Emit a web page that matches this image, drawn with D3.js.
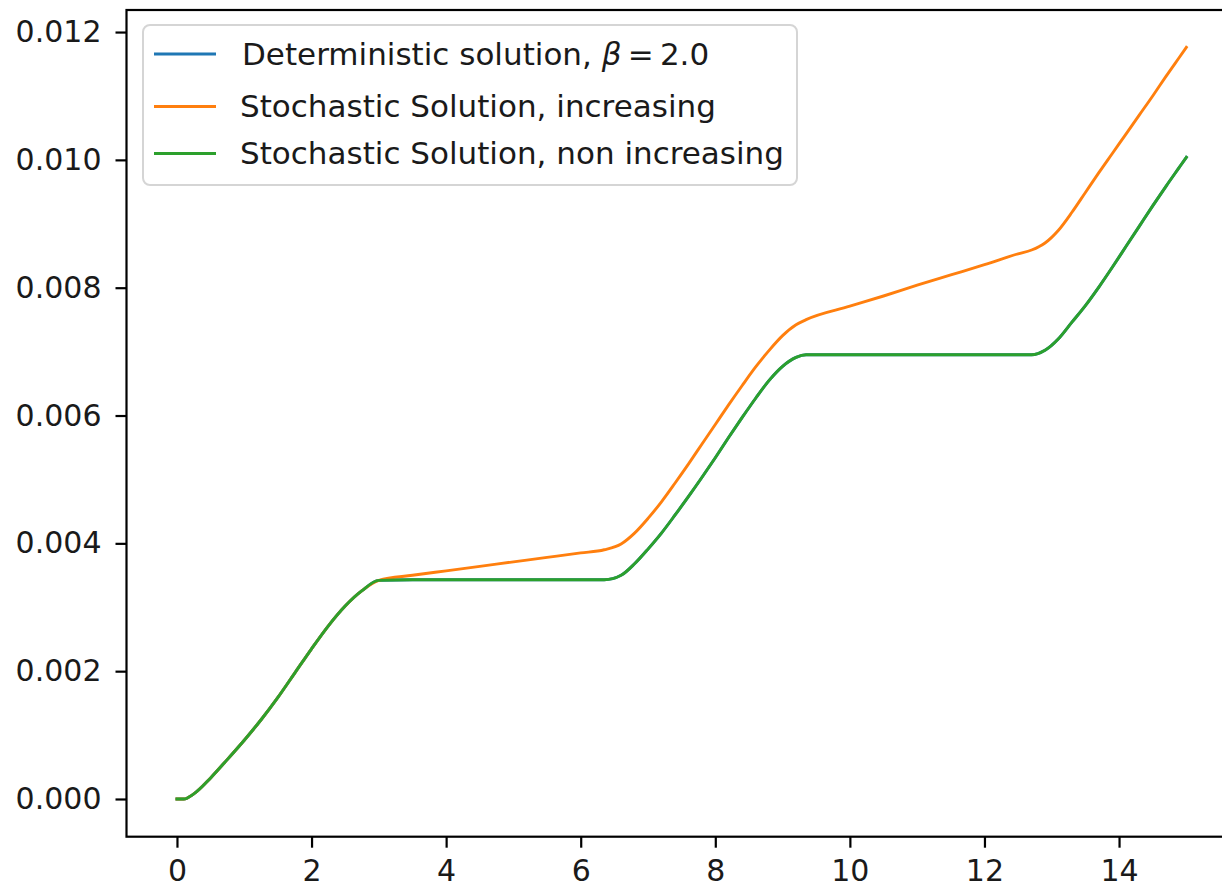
<!DOCTYPE html>
<html>
<head>
<meta charset="utf-8">
<script src="https://cdn.jsdelivr.net/npm/d3@7"></script>
<style>
  body { margin: 0; background: #fff; }
  svg { display: block; font-family: "DejaVu Sans", sans-serif; }
</style>
</head>
<body>
<div id="chart"></div>
<script>
// time grid shared by all three series
const tValues = [
  0, 0.1, 0.25, 0.5, 0.75, 1.0, 1.25, 1.5, 1.75, 2.0, 2.25, 2.5, 2.75, 3.0,
  3.5, 4.0, 4.5, 5.0, 5.5, 6.0, 6.35,
  6.6, 6.8, 7.0, 7.2, 7.4, 7.6, 7.8, 8.0, 8.2, 8.4, 8.6, 8.8, 9.0, 9.2, 9.35,
  10.0, 10.5, 11.0, 11.5, 12.0, 12.5, 12.7,
  12.9, 13.1, 13.3, 13.5, 13.7, 13.9, 14.1, 14.3, 14.5, 14.7, 14.9, 15.0
];

// non increasing stochastic solution (the deterministic one lies underneath it)
const nonIncreasing = [
  0, 0, 0.00008, 0.00033, 0.00062, 0.00092, 0.00124, 0.00159, 0.00197, 0.00235, 0.00271, 0.00302, 0.00326, 0.00342,
  0.00343, 0.00343, 0.00343, 0.00343, 0.00343, 0.00343, 0.00343,
  0.00350, 0.00368, 0.00391, 0.00416, 0.00444, 0.00473, 0.00503, 0.00534, 0.00566, 0.00597, 0.00627, 0.00655, 0.00677, 0.00691, 0.00695,
  0.00695, 0.00695, 0.00695, 0.00695, 0.00695, 0.00695, 0.00695,
  0.00702, 0.00720, 0.00746, 0.00772, 0.00801, 0.00832, 0.00864, 0.00896, 0.00928, 0.00959, 0.00989, 0.01004
];

const deterministic = nonIncreasing.slice();

const increasing = [
  0, 0, 0.00008, 0.00033, 0.00062, 0.00092, 0.00124, 0.00159, 0.00197, 0.00235, 0.00271, 0.00302, 0.00326, 0.00342,
  0.00350, 0.00357, 0.00364, 0.00371, 0.00378, 0.00385, 0.00390,
  0.00399, 0.00416, 0.00439, 0.00465, 0.00494, 0.00524, 0.00555, 0.00586, 0.00617, 0.00647, 0.00676, 0.00702, 0.00725, 0.00742, 0.00750,
  0.00771, 0.00787, 0.00804, 0.00820, 0.00836, 0.00853, 0.00859,
  0.00870, 0.00890, 0.00918, 0.00949, 0.00980, 0.01010, 0.01040, 0.01070, 0.01100, 0.01131, 0.01161, 0.01176
];

const seriesNames = [
  "Deterministic solution, ",
  "Stochastic Solution, increasing",
  "Stochastic Solution, non increasing"
];
const seriesColors = ["#1f77b4", "#ff7f0e", "#2ca02c"];
const xTicks = [0, 2, 4, 6, 8, 10, 12, 14];
const yTicks = [0, 0.002, 0.004, 0.006, 0.008, 0.010, 0.012];

const width = 1222, height = 888;
const tickFont = 30, legendFont = 31;

const svg = d3.select("#chart").append("svg")
  .attr("width", width)
  .attr("height", height);

const x = d3.scaleLinear().domain([-0.75, 15.75]).range([126.5, 1236.8]);
const y = d3.scaleLinear().domain([-0.00059, 0.012345]).range([836.7, 10]);

const series = [deterministic, increasing, nonIncreasing].map((vals, i) => ({
  name: seriesNames[i],
  color: seriesColors[i],
  points: tValues.map((t, j) => [t, vals[j]])
}));

const line = d3.line()
  .x(d => x(d[0]))
  .y(d => y(d[1]))
  .curve(d3.curveMonotoneX);

svg.append("g")
  .selectAll("path")
  .data(series)
  .join("path")
  .attr("d", d => line(d.points))
  .attr("fill", "none")
  .attr("stroke", d => d.color)
  .attr("stroke-width", 2.9)
  .attr("stroke-linecap", "square")
  .attr("stroke-linejoin", "round");

// axes
const xAxis = svg.append("g")
  .attr("transform", "translate(0," + y.range()[0] + ")")
  .call(d3.axisBottom(x).tickValues(xTicks).tickFormat(d3.format("d")).tickSize(11).tickPadding(12));

const yAxis = svg.append("g")
  .attr("transform", "translate(" + x.range()[0] + ",0)")
  .call(d3.axisLeft(y).tickValues(yTicks).tickFormat(d3.format(".3f")).tickSize(11).tickPadding(14));

[xAxis, yAxis].forEach(g => {
  g.select(".domain").remove();
  g.selectAll(".tick line").attr("stroke", "#000").attr("stroke-width", 2.2);
  g.selectAll(".tick text")
    .attr("fill", "#1a1a1a")
    .style("font-size", tickFont + "px")
    .style("font-family", "'DejaVu Sans', sans-serif");
});

// spines (right one falls outside the picture)
svg.append("rect")
  .attr("x", x.range()[0])
  .attr("y", y.range()[1])
  .attr("width", x.range()[1] - x.range()[0])
  .attr("height", y.range()[0] - y.range()[1])
  .attr("fill", "none")
  .attr("stroke", "#000")
  .attr("stroke-width", 2.2);

// legend
const legend = svg.append("g");
legend.append("rect")
  .attr("x", 143).attr("y", 25)
  .attr("width", 654).attr("height", 160)
  .attr("rx", 7)
  .attr("fill", "rgba(255,255,255,0.8)")
  .attr("stroke", "#d5d5d5")
  .attr("stroke-width", 2);

const rowY = [54, 106.5, 153.5];
const rows = legend.selectAll("g.row")
  .data(series)
  .join("g")
  .attr("class", "row")
  .attr("transform", (d, i) => "translate(0," + rowY[i] + ")");

rows.append("line")
  .attr("x1", 154).attr("x2", 216)
  .attr("stroke", d => d.color)
  .attr("stroke-width", 2.9);

const labels = rows.append("text")
  .attr("x", (d, i) => i === 0 ? 242 : 240)
  .attr("dy", "0.35em")
  .attr("fill", "#1a1a1a")
  .style("font-size", legendFont + "px")
  .text(d => d.name);

labels.filter((d, i) => i === 0).each(function () {
  const t = d3.select(this);
  t.append("tspan").style("font-style", "italic").text("β");
  t.append("tspan").text("\u2009=\u20092.0");
});
</script>
</body>
</html>
